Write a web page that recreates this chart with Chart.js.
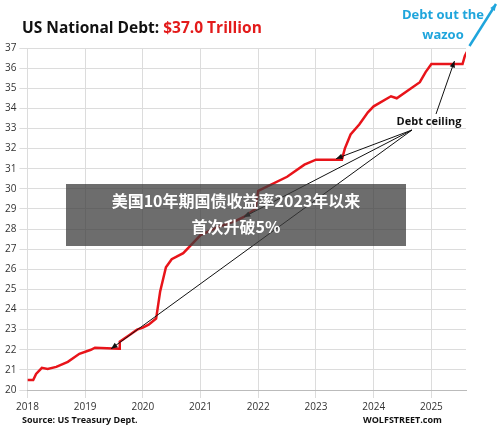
<!DOCTYPE html><html><head><meta charset="utf-8">
<script src="https://cdn.jsdelivr.net/npm/chart.js@4"></script>
<style>body{margin:0;background:#fff}#w{width:500px;height:431px}</style></head><body><div id="w"><canvas id="c"></canvas></div>
<script>
const years=[2018,2018.1,2018.15,2018.25,2018.35,2018.5,2018.7,2018.9,2019.1,2019.17,2019.59,2019.6,2019.75,2019.9,2020.0,2020.1,2020.23,2020.3,2020.4,2020.5,2020.7,2020.9,2021.0,2021.3,2021.6,2021.75,2021.95,2022.0,2022.5,2022.8,2023.0,2023.45,2023.5,2023.6,2023.75,2023.9,2024.0,2024.3,2024.4,2024.6,2024.8,2024.9,2025.0,2025.54,2025.58,2025.65];
const debt=[20.5,20.5,20.8,21.1,21.05,21.15,21.4,21.8,22.0,22.1,22.05,22.4,22.7,23.0,23.1,23.25,23.55,24.9,26.1,26.5,26.8,27.4,27.7,28.1,28.4,28.6,29.0,29.9,30.6,31.2,31.45,31.45,32.0,32.7,33.2,33.8,34.1,34.6,34.5,34.9,35.3,35.8,36.2,36.2,36.6,37.0];
const xTicks=[2018,2019,2020,2021,2022,2023,2024,2025];
const ceilings=[[2019.45,22.05],[2021.75,28.6],[2023.35,31.5],[2025.4,36.2]];
function arrow(ctx,x1,y1,x2,y2,col,w,h){ctx.strokeStyle=col;ctx.fillStyle=col;ctx.lineWidth=w;ctx.beginPath();ctx.moveTo(x1,y1);ctx.lineTo(x2,y2);ctx.stroke();const a=Math.atan2(y2-y1,x2-x1);ctx.beginPath();ctx.moveTo(x2,y2);ctx.lineTo(x2-h*Math.cos(a-0.4),y2-h*Math.sin(a-0.4));ctx.lineTo(x2-h*Math.cos(a+0.4),y2-h*Math.sin(a+0.4));ctx.closePath();ctx.fill();}
const deco={id:'deco',afterDraw(ch){const ctx=ch.ctx,x=ch.scales.x,y=ch.scales.y;ctx.save();
ctx.font='bold 15.5px "Open Sans"';ctx.textBaseline='alphabetic';ctx.fillStyle='#111';ctx.fillText('US National Debt: ',22,33);let w=ctx.measureText('US National Debt: ').width;ctx.fillStyle='#e31b1b';ctx.fillText('$37.0 Trillion',22+w,33);
ctx.font='bold 13px "Open Sans"';ctx.fillStyle='#1fa5dc';ctx.textAlign='center';ctx.fillText('Debt out the',443,19);ctx.fillText('wazoo',443,39);
arrow(ctx,x.getPixelForValue(2025.66),y.getPixelForValue(37.1),496,4,'#1fa5dc',2.5,7);
ctx.font='bold 11px "Open Sans"';ctx.fillStyle='#111';ctx.fillText('Debt ceiling',429,125);
for(const [cx,cy] of ceilings){const tx=x.getPixelForValue(cx),ty=y.getPixelForValue(cy);if(cx>2025)arrow(ctx,436,114,tx,ty-3,'#111',1,7);else arrow(ctx,412,130,tx,ty,'#111',1,7);}
ctx.textAlign='left';ctx.font='bold 9px "Open Sans"';ctx.fillText('Source: US Treasury Dept.',22,423);ctx.fillText('WOLFSTREET.com',363,423);
ctx.fillStyle='rgba(60,60,60,0.75)';ctx.fillRect(66,184,340,62);ctx.fillStyle='#fff';ctx.font='bold 16px "Noto Sans CJK SC"';ctx.textAlign='center';ctx.fillText('美国10年期国债收益率2023年以来',236,207);ctx.fillText('首次升破5%',236,233);
ctx.restore();}};
new Chart(document.getElementById('c'),{type:'line',data:{datasets:[{data:years.map((v,i)=>({x:v,y:debt[i]})),borderColor:'#e8141a',borderWidth:2.5,pointRadius:0,tension:0}]},
options:{responsive:true,maintainAspectRatio:false,animation:false,layout:{padding:{top:48,left:2,right:34,bottom:15}},plugins:{legend:{display:false},tooltip:{enabled:false}},
scales:{x:{type:'linear',min:2018,max:2025.6,afterBuildTicks:a=>{a.ticks=xTicks.map(v=>({value:v}))},ticks:{color:'#333',font:{size:10,family:'"Open Sans"'},callback:v=>String(v)},grid:{color:'#dcdcdc'},border:{color:'#bbb'}},
y:{min:20,max:37,ticks:{stepSize:1,color:'#333',font:{size:10,family:'"Open Sans"'}},grid:{color:'#dcdcdc'},border:{display:false}}}},plugins:[deco]});
</script></body></html>
